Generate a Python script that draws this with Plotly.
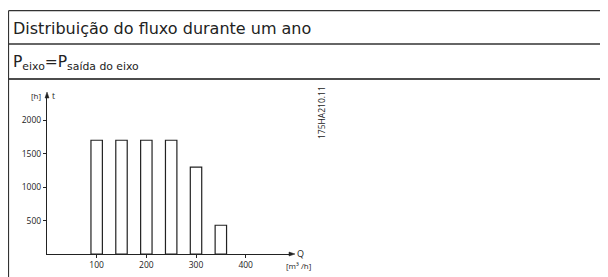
import plotly.graph_objects as go

# Data
flow_q = [100, 150, 200, 250, 300, 350]          # m3/h
hours_t = [1700, 1700, 1700, 1700, 1300, 430]    # h
x_ticks = [100, 200, 300, 400]
y_ticks = [500, 1000, 1500, 2000]

# The page body has an 8px margin; the figure is sized to fill the window.
OFF = 8
W, H = 608 - OFF, 277 - OFF
def px(x): return (x - OFF) / W
def py(y): return 1 - (y - OFF) / H

FONT = "Open Sans"
HEAD_FONT = "DejaVu Sans"
INK = "#222222"

fig = go.Figure()
fig.add_trace(go.Bar(
    x=flow_q, y=hours_t, width=23,
    marker=dict(color="white", line=dict(color=INK, width=1.2)),
    hoverinfo="x+y",
))

x0, x1 = 47, 291
y0, y1 = 254, 96
fig.update_layout(
    width=W, height=H,
    margin=dict(l=0, r=0, t=0, b=0),
    paper_bgcolor="white", plot_bgcolor="white",
    showlegend=False,
    font=dict(family=FONT, size=8, color=INK),
    xaxis=dict(domain=[px(x0), px(x1)], range=[0, (x1 - x0) / 0.4967],
               tickvals=x_ticks, ticks="outside", ticklen=3, tickwidth=1,
               tickcolor=INK, showline=True, linecolor=INK, linewidth=1.3,
               showgrid=False, zeroline=False, fixedrange=True,
               tickfont=dict(size=8.5)),
    yaxis=dict(domain=[py(y0), py(y1)], range=[0, (y0 - y1) / 0.0669],
               tickvals=y_ticks, ticks="outside", ticklen=3, tickwidth=1,
               tickcolor=INK, showline=True, linecolor=INK, linewidth=1.3,
               showgrid=False, zeroline=False, fixedrange=True,
               tickfont=dict(size=8.5)),
)

# Frame lines
lines = [
    dict(x0=px(8.5), x1=1, y0=py(10.7), y1=py(10.7), color="#333333", width=1.2),
    dict(x0=px(8.5), x1=1, y0=py(44), y1=py(44), color="#333333", width=1.4),
    dict(x0=px(8.5), x1=1, y0=py(79), y1=py(79), color="#111111", width=1.3),
    dict(x0=px(8.5), x1=px(8.5), y0=py(10.7), y1=0, color="#333333", width=1.2),
]
for l in lines:
    fig.add_shape(type="line", xref="paper", yref="paper",
                  x0=l["x0"], x1=l["x1"], y0=l["y0"], y1=l["y1"],
                  line=dict(color=l["color"], width=l["width"]))

# Arrowheads (filled triangles at the axis ends)
def tri(pts):
    path = "M " + " L ".join(f"{px(a)},{py(b)}" for a, b in pts) + " Z"
    fig.add_shape(type="path", xref="paper", yref="paper", path=path,
                  fillcolor=INK, line=dict(color=INK, width=0.5))

tri([(x1 + 4, y0), (x1 - 2, y0 - 2), (x1 - 2, y0 + 2)])
tri([(x0, y1 - 4), (x0 - 2, y1 + 2), (x0 + 2, y1 + 2)])

def label(text, x, y, size=8, xanchor="center", angle=0, family=FONT):
    fig.add_annotation(xref="paper", yref="paper", x=px(x), y=py(y), text=text,
                       showarrow=False, xanchor=xanchor, yanchor="middle",
                       textangle=angle, font=dict(family=family, size=size, color=INK))

label("[h]", 36, 96)
label("t", 53.5, 96, size=8.5)
label("Q", 294.5, 254, xanchor="left", size=9)
label("[m³ /h]", 298, 265.5)
label("175HA210.11", 321, 112, angle=-90, size=8.5)
label("Distribuição do fluxo durante um ano", 11, 28, size=16, xanchor="left",
      family=HEAD_FONT)
label("P<sub>eixo</sub>=P<sub>saída do eixo</sub>", 11, 63, size=15.5, xanchor="left",
      family=HEAD_FONT)

fig.write_html("out.html")
